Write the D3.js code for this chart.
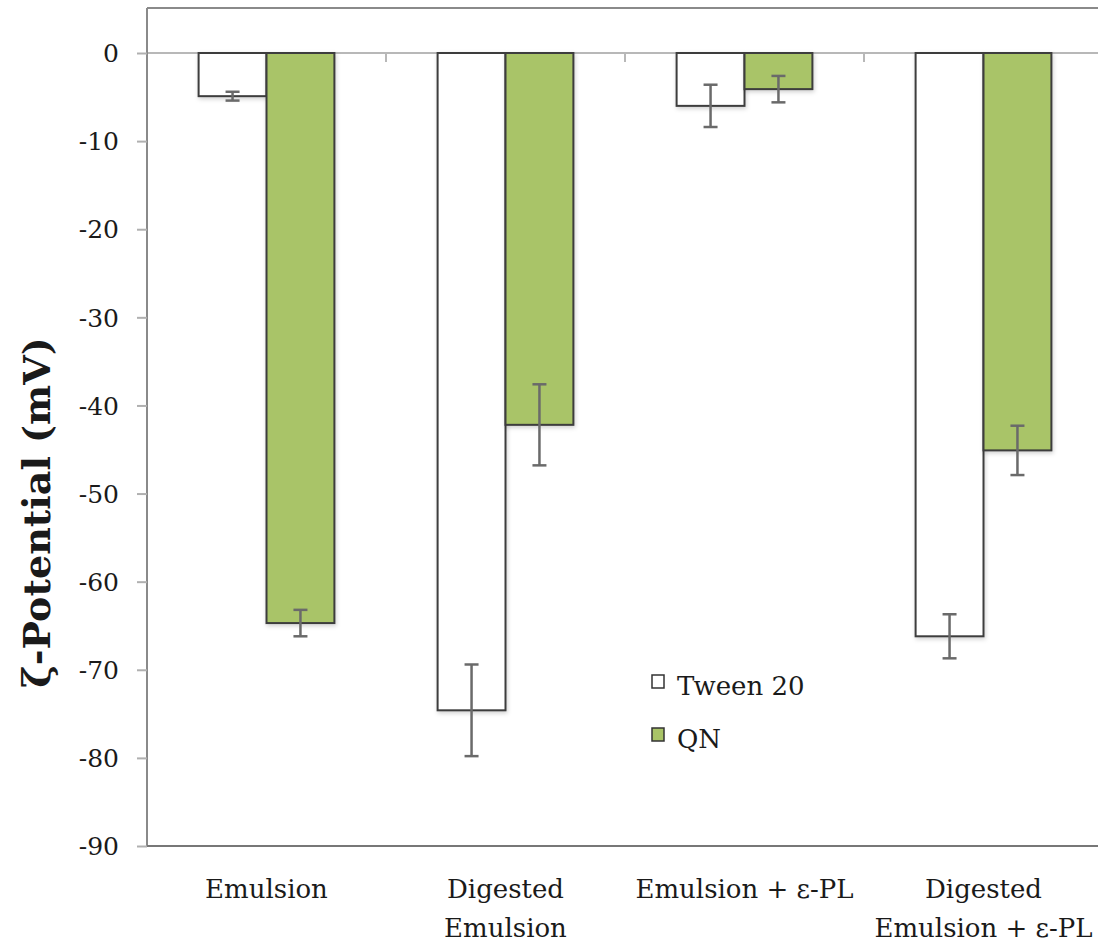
<!DOCTYPE html>
<html>
<head>
<meta charset="utf-8">
<script src="https://cdn.jsdelivr.net/npm/d3@7"></script>
<style>
  html, body { margin: 0; padding: 0; background: #fff; }
  svg { display: block; }
  text { font-family: "DejaVu Serif", "Liberation Serif", serif; fill: #1a1a1a; }
</style>
</head>
<body>
<svg id="chart" width="1098" height="943"></svg>
<script>
// Zeta potential of emulsions stabilised by Tween 20 or QN
const categories = [["Emulsion"], ["Digested", "Emulsion"], ["Emulsion + ε-PL"], ["Digested", "Emulsion + ε-PL"]];
const seriesNames = ["Tween 20", "QN"];
const tweenValues = [-4.9, -74.6, -6.0, -66.2];
const tweenErrors = [0.5, 5.2, 2.4, 2.5];
const qnValues = [-64.7, -42.2, -4.1, -45.1];
const qnErrors = [1.5, 4.6, 1.5, 2.8];
const yTicks = [0, -10, -20, -30, -40, -50, -60, -70, -80, -90];
const colors = ["#ffffff", "#a9c467"];

const svg = d3.select("#chart");
const plotLeft = 147, plotRight = 1103, plotTop = 8, plotBottom = 846;

const y = d3.scaleLinear().domain([0, -90]).range([53, plotBottom]);
const x0 = d3.scaleBand().domain(d3.range(categories.length)).range([plotLeft, plotRight]).paddingInner(0).paddingOuter(0);
const x1 = d3.scaleBand().domain(seriesNames).range([0, x0.bandwidth()]).paddingInner(0).paddingOuter(0.76);

const defs = svg.append("defs");
const sh = defs.append("filter").attr("id", "shadow").attr("x", "-10%").attr("y", "-10%").attr("width", "130%").attr("height", "130%");
sh.append("feDropShadow").attr("dx", 1).attr("dy", 2).attr("stdDeviation", 2).attr("flood-color", "#000").attr("flood-opacity", 0.18);

// plot frame
svg.append("line").attr("x1", plotLeft).attr("x2", plotRight).attr("y1", plotTop).attr("y2", plotTop)
  .attr("stroke", "#8a8a8a").attr("stroke-width", 2);

// zero line with category separators
svg.append("line").attr("x1", plotLeft).attr("x2", plotRight).attr("y1", y(0)).attr("y2", y(0))
  .attr("stroke", "#b8b8b8").attr("stroke-width", 2);
svg.append("g").selectAll("line").data(d3.range(1, categories.length)).join("line")
  .attr("x1", d => x0(d)).attr("x2", d => x0(d))
  .attr("y1", y(0)).attr("y2", y(0) + 9)
  .attr("stroke", "#b8b8b8").attr("stroke-width", 2);

// y axis
const yAxis = svg.append("g").attr("transform", `translate(${plotLeft},0)`)
  .call(d3.axisLeft(y).tickValues(yTicks).tickSize(10).tickPadding(18).tickFormat(d => String(d)));
yAxis.select(".domain").attr("stroke", "#8a8a8a").attr("stroke-width", 2)
  .attr("d", `M0,${plotTop}V${plotBottom}`);
yAxis.selectAll(".tick line").attr("stroke", "#b0b0b0").attr("stroke-width", 2);
yAxis.selectAll(".tick text").attr("font-size", 25).attr("fill", "#1a1a1a")
  .attr("font-family", "DejaVu Serif, serif").attr("dy", "0.35em");

// bottom axis line
svg.append("line").attr("x1", plotLeft).attr("x2", plotRight).attr("y1", plotBottom).attr("y2", plotBottom)
  .attr("stroke", "#777").attr("stroke-width", 2);

// bars
const series = [
  { name: seriesNames[0], values: tweenValues, errors: tweenErrors, color: colors[0] },
  { name: seriesNames[1], values: qnValues, errors: qnErrors, color: colors[1] }
];

const bars = svg.append("g");
series.forEach(s => {
  bars.selectAll(null).data(s.values).join("rect")
    .attr("x", (d, i) => x0(i) + x1(s.name))
    .attr("y", y(0))
    .attr("width", x1.bandwidth())
    .attr("height", d => y(d) - y(0))
    .attr("fill", s.color)
    .attr("stroke", "#3c3c3c")
    .attr("stroke-width", 2)
    .attr("filter", "url(#shadow)");
});

// error bars
const errs = svg.append("g").attr("stroke", "#6a6a6a").attr("stroke-width", 2.5);
series.forEach(s => {
  s.values.forEach((v, i) => {
    const cx = x0(i) + x1(s.name) + x1.bandwidth() / 2;
    const e = s.errors[i];
    errs.append("line").attr("x1", cx).attr("x2", cx).attr("y1", y(v + e)).attr("y2", y(v - e));
    [v + e, v - e].forEach(c => {
      errs.append("line").attr("x1", cx - 7).attr("x2", cx + 7).attr("y1", y(c)).attr("y2", y(c));
    });
  });
});

// category labels
const xl = svg.append("g");
categories.forEach((lines, i) => {
  const t = xl.append("text").attr("x", x0(i) + x0.bandwidth() / 2).attr("y", 898)
    .attr("text-anchor", "middle").attr("font-size", 26);
  lines.forEach((ln, j) => {
    t.append("tspan").attr("x", x0(i) + x0.bandwidth() / 2).attr("dy", j === 0 ? 0 : 39).text(ln);
  });
});

// y axis title
svg.append("text")
  .attr("transform", `translate(50,${(53 + plotBottom) / 2 + 63}) rotate(-90)`)
  .attr("text-anchor", "middle")
  .attr("font-size", 38).attr("font-weight", "bold")
  .text("ζ-Potential (mV)");

// legend
const legend = svg.append("g").attr("transform", "translate(652,675)");
series.forEach((s, i) => {
  const g = legend.append("g").attr("transform", `translate(0,${i * 53})`);
  g.append("rect").attr("width", 12).attr("height", 13).attr("fill", s.color)
    .attr("stroke", "#333").attr("stroke-width", 1.5);
  g.append("text").attr("x", 25).attr("y", 20).attr("font-size", 26).text(s.name);
});
</script>
</body>
</html>
